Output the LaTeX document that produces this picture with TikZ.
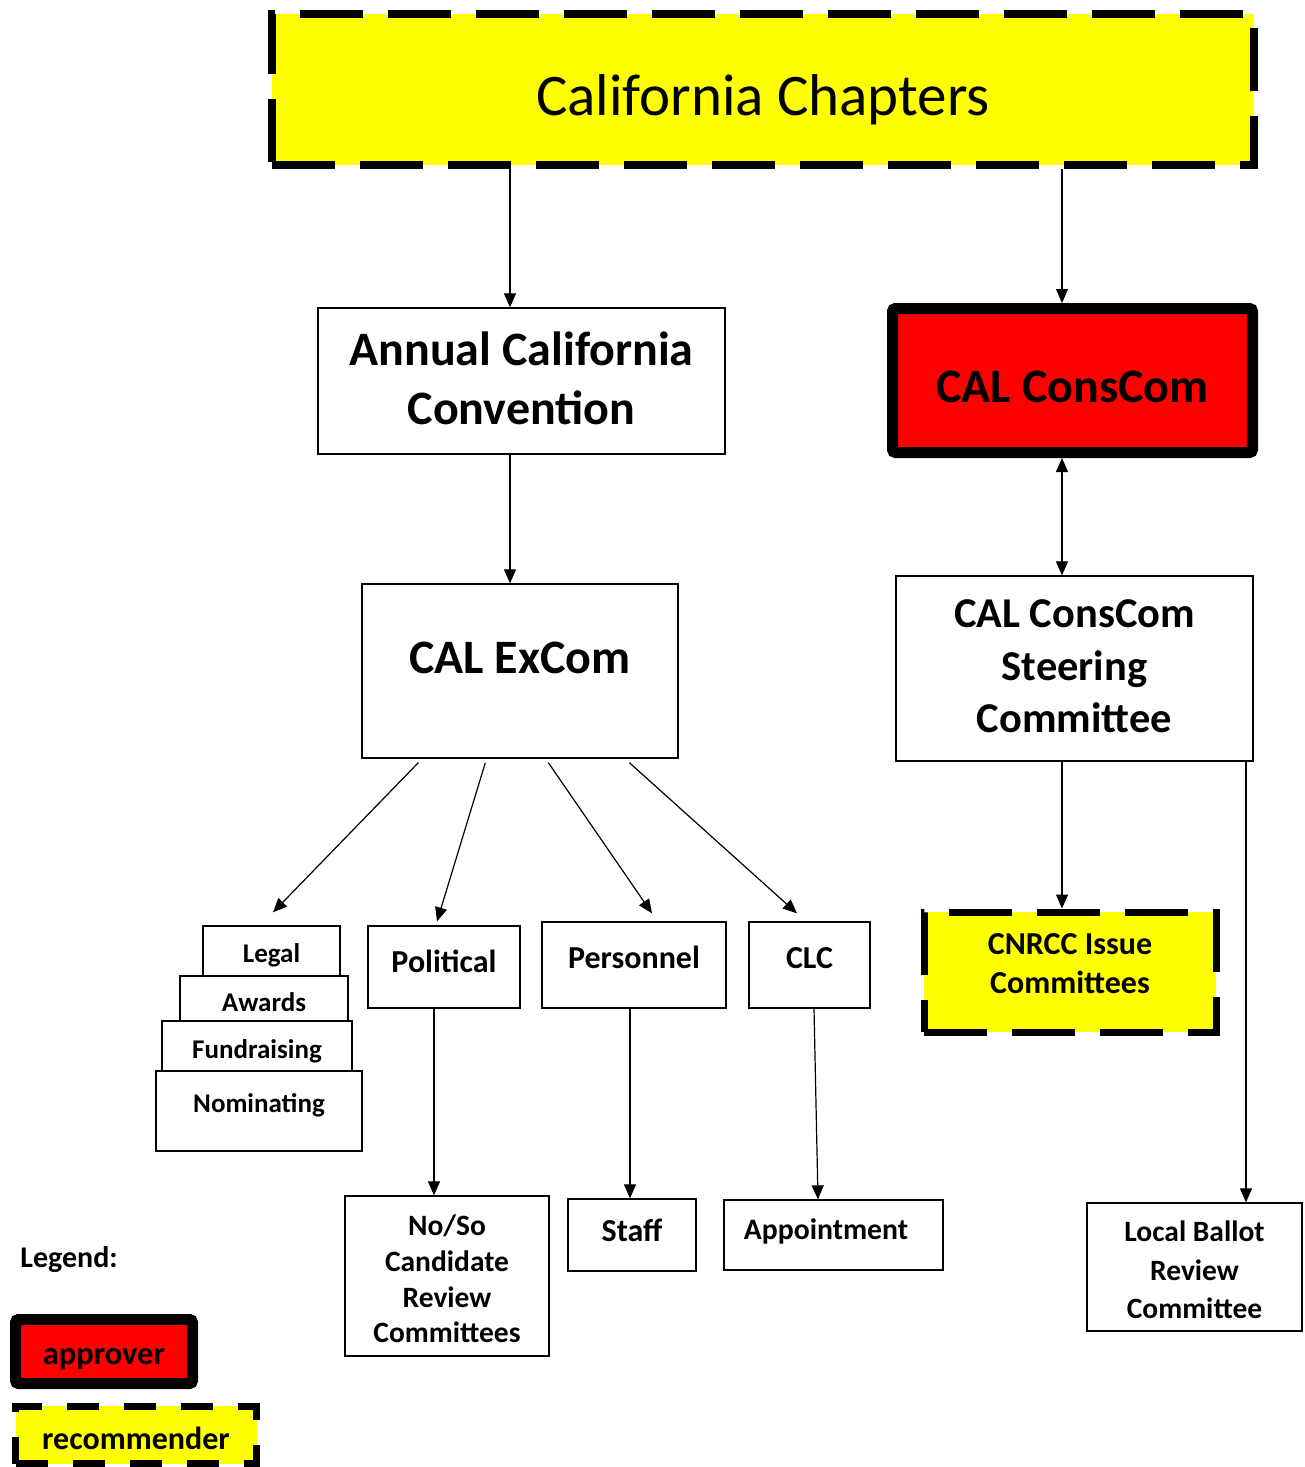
\documentclass[tikz,border=0pt]{standalone}
\usepackage{fontspec}
\setmainfont{Carlito}
\usetikzlibrary{arrows.meta}
\definecolor{yel}{RGB}{255,255,0}
\definecolor{rd}{RGB}{255,0,0}
\newcommand\liftby[2]{\raisebox{#1}[\height][\depth]{#2}}
\begin{document}
\begin{tikzpicture}[x=1pt,y=-1pt,
  box/.style={draw=black, line width=1.3pt, fill=white, rectangle, inner sep=0pt, align=center},
  approverbox/.style={draw=black, line width=11pt, fill=rd, rounded corners=3pt, inner sep=0pt, align=center},
  recbox/.style={draw=black, line width=7.5pt, fill=yel, dash pattern=on 63pt off 25pt, inner sep=0pt, align=center},
  arr/.style={line width=1.2pt, -{Triangle[length=14pt,width=12pt]}},
  darr/.style={line width=1.2pt, {Triangle[length=14pt,width=12pt]}-{Triangle[length=14pt,width=12pt]}},
]
\useasboundingbox (0,0) rectangle (1304,1467);

% top level
\node[recbox, minimum width=982pt, minimum height=151pt, text height=51pt, text depth=0pt,
      font=\fontsize{59}{70}\selectfont] (cc) at (763,89.5) {California Chapters};

\node[box, minimum width=407pt, minimum height=146pt, font=\fontsize{48}{59}\selectfont\bfseries]
  (acc) at (521.5,381) {\liftby{3pt}{Annual California}\\\liftby{3pt}{Convention}};

\node[approverbox, minimum width=360pt, minimum height=144pt, text height=43pt, text depth=0pt,
      font=\fontsize{48}{59}\selectfont\bfseries] (conscom) at (1072.5,380.5) {CAL ConsCom};

\node[box, minimum width=316pt, minimum height=174pt, text height=30pt, text depth=26pt,
      font=\fontsize{48}{59}\selectfont\bfseries] (excom) at (520,671) {CAL ExCom};

\node[box, minimum width=357pt, minimum height=185pt, font=\fontsize{42.5}{52.5}\selectfont\bfseries]
  (steer) at (1074.5,668.5) {\liftby{2pt}{CAL ConsCom}\\\liftby{2pt}{Steering}\\\liftby{2pt}{Committee}};

\node[recbox, line width=7pt, minimum width=292pt, minimum height=120pt,
      font=\fontsize{32}{39}\selectfont\bfseries] (cnrcc) at (1070,972)
  {\liftby{8.5pt}{CNRCC Issue}\\\liftby{8.5pt}{Committees}};

% stacked committees
\node[box, minimum width=137pt, minimum height=50pt, text height=23pt, text depth=0pt,
      font=\fontsize{27}{31}\selectfont\bfseries] (legal) at (271.5,951) {Legal};
\node[box, minimum width=168pt, minimum height=45pt, text height=26pt, text depth=0pt,
      font=\fontsize{27}{31}\selectfont\bfseries] (awards) at (264,998.5) {Awards};
\node[box, minimum width=190pt, minimum height=50pt, text height=24pt, text depth=0pt,
      font=\fontsize{27}{31}\selectfont\bfseries] (fund) at (257,1046) {Fundraising};
\node[box, minimum width=206pt, minimum height=80pt, text height=17pt, text depth=14pt,
      font=\fontsize{27}{31}\selectfont\bfseries] (nom) at (259,1111) {Nominating};

\node[box, minimum width=152pt, minimum height=82pt, text height=20pt, text depth=10pt,
      font=\fontsize{32}{37}\selectfont\bfseries] (political) at (444,967) {Political};
\node[box, minimum width=184pt, minimum height=86pt, text height=20pt, text depth=14pt,
      font=\fontsize{32}{37}\selectfont\bfseries] (personnel) at (634,965) {Personnel};
\node[box, minimum width=121pt, minimum height=86pt, text height=20pt, text depth=14pt,
      font=\fontsize{32}{37}\selectfont\bfseries] (clc) at (809.5,965) {CLC};

\node[box, minimum width=204pt, minimum height=160pt, font=\fontsize{29.5}{35.7}\selectfont\bfseries]
  (noso) at (447,1276) {\liftby{-3pt}{No/So}\\\liftby{-3pt}{Candidate}\\\liftby{-3pt}{Review}\\\liftby{-3pt}{Committees}};
\node[box, minimum width=128pt, minimum height=72pt, text height=20pt, text depth=8pt,
      font=\fontsize{32}{37}\selectfont\bfseries] (staff) at (632,1235) {Staff};
\node[box, minimum width=219pt, minimum height=70pt, text height=18.6pt, text depth=10pt,
      font=\fontsize{29.7}{35}\selectfont\bfseries] (appoint) at (833.5,1235) {\hspace*{-15pt}Appointment};
\node[box, minimum width=215pt, minimum height=128pt, font=\fontsize{29.5}{38.5}\selectfont\bfseries]
  (local) at (1194.5,1267) {\liftby{-3pt}{Local Ballot}\\\liftby{-3pt}{Review}\\\liftby{-3pt}{Committee}};

% legend
\node[inner sep=0pt, text height=19pt, text depth=0pt, font=\fontsize{30}{35}\selectfont\bfseries]
  (legend) at (69,1258) {Legend:};
\node[approverbox, minimum width=177pt, minimum height=64pt, text height=25pt, text depth=0pt,
      font=\fontsize{32.4}{37}\selectfont\bfseries] (approver) at (104,1351.5) {approver};
\node[recbox, line width=7pt, dash pattern=on 32pt off 25pt, minimum width=241pt, minimum height=57.5pt,
      text height=28pt, text depth=0pt, font=\fontsize{32}{37}\selectfont\bfseries]
  (recommender) at (136,1435) {recommender};

% connectors
\draw[arr] (cc.south -| 510,0) -- (acc.north -| 510,0);
\draw[arr] (cc.south -| 1062,0) -- (conscom.north -| 1062,0);
\draw[arr] (acc.south -| 510,0) -- (excom.north -| 510,0);
\draw[darr] (conscom.south -| 1062,0) -- (steer.north -| 1062,0);
\draw[arr] ([xshift=57pt,yshift=-4pt]excom.south west) -- ([xshift=1.5pt,yshift=13pt]legal.north);
\draw[arr] ([xshift=124pt,yshift=-4pt]excom.south west) -- ([xshift=-7pt,yshift=4pt]political.north);
\draw[arr] ([xshift=187pt,yshift=-4pt]excom.south west) -- ([xshift=18pt,yshift=8pt]personnel.north);
\draw[arr] ([xshift=268pt,yshift=-4pt]excom.south west) -- ([xshift=-12.5pt,yshift=8pt]clc.north);
\draw[arr] (steer.south -| 1062,0) -- (cnrcc.north -| 1062,0);
\draw[arr] (steer.south -| 1246,0) -- (local.north -| 1246,0);
\draw[arr] (political.south -| 434,0) -- (noso.north -| 434,0);
\draw[arr] (personnel.south -| 630,0) -- (staff.north -| 630,0);
\draw[arr] ([xshift=4.5pt]clc.south) -- ([xshift=-15.5pt]appoint.north);
\end{tikzpicture}
\end{document}
